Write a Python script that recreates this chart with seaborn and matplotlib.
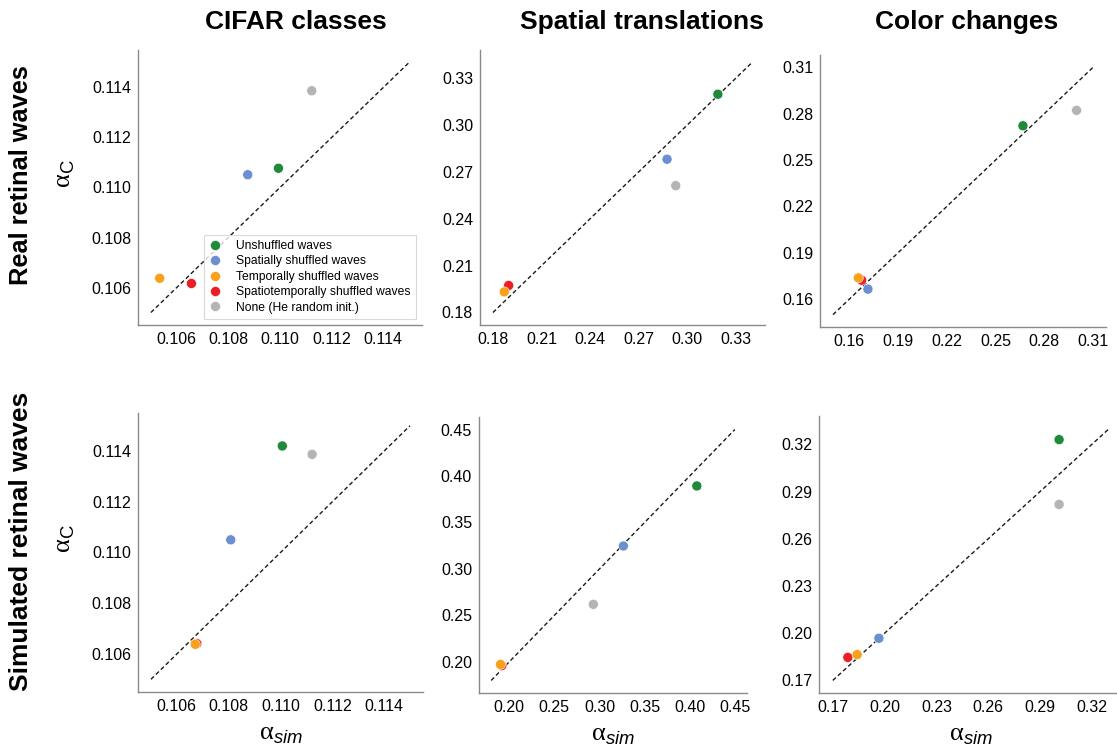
import matplotlib
matplotlib.use("Agg")
import matplotlib.pyplot as plt
from matplotlib.ticker import FormatStrFormatter
import numpy as np
import pandas as pd
import seaborn as sns

# ---- data -------------------------------------------------------------
conditions = [
    "Unshuffled waves",
    "Spatially shuffled waves",
    "Temporally shuffled waves",
    "Spatiotemporally shuffled waves",
    "None (He random init.)",
]
palette = {
    "Unshuffled waves": "#21893b",
    "Spatially shuffled waves": "#6b8fcf",
    "Temporally shuffled waves": "#f9a11b",
    "Spatiotemporally shuffled waves": "#ea1f26",
    "None (He random init.)": "#b4b4b6",
}
# drawing order (later entries are drawn on top)
draw_order = [0, 1, 3, 2, 4]

col_titles = ["CIFAR classes", "Spatial translations", "Color changes"]
row_titles = ["Real retinal waves", "Simulated retinal waves"]

# real retinal waves
cifar_real_sim = [0.10994, 0.10875, 0.10534, 0.10657, 0.11123]
cifar_real_c = [0.11077, 0.11051, 0.10637, 0.10616, 0.11387]
spatial_real_sim = [0.3189, 0.2875, 0.1870, 0.1897, 0.2929]
spatial_real_c = [0.3197, 0.2781, 0.1932, 0.1973, 0.2612]
color_real_sim = [0.2669, 0.1715, 0.1656, 0.1676, 0.2999]
color_real_c = [0.2722, 0.1665, 0.1738, 0.1723, 0.2822]

# simulated retinal waves
cifar_simu_sim = [0.11007, 0.10808, 0.10671, 0.10677, 0.11122]
cifar_simu_c = [0.11420, 0.11050, 0.10638, 0.10641, 0.11387]
spatial_simu_sim = [0.4079, 0.3265, 0.1903, 0.1918, 0.2932]
spatial_simu_c = [0.3893, 0.3247, 0.1972, 0.1961, 0.2619]
color_simu_sim = [0.3010, 0.1967, 0.1841, 0.1787, 0.3010]
color_simu_c = [0.3230, 0.1968, 0.1864, 0.1846, 0.2818]

# identity-line extents
diag_cifar = [0.105, 0.115]
diag_spatial_real = [0.18, 0.34]
diag_color_real = [0.15, 0.31]
diag_spatial_simu = [0.18, 0.45]
diag_color_simu = [0.17, 0.33]

# tick values
ticks_cifar = [0.106, 0.108, 0.110, 0.112, 0.114]
ticks_spatial_real = [0.18, 0.21, 0.24, 0.27, 0.30, 0.33]
ticks_color_real = [0.16, 0.19, 0.22, 0.25, 0.28, 0.31]
ticks_spatial_simu = [0.20, 0.25, 0.30, 0.35, 0.40, 0.45]
ticks_color_simu = [0.17, 0.20, 0.23, 0.26, 0.29, 0.32]

panels = [
    (cifar_real_sim, cifar_real_c, diag_cifar, ticks_cifar, "%.3f"),
    (spatial_real_sim, spatial_real_c, diag_spatial_real, ticks_spatial_real, "%.2f"),
    (color_real_sim, color_real_c, diag_color_real, ticks_color_real, "%.2f"),
    (cifar_simu_sim, cifar_simu_c, diag_cifar, ticks_cifar, "%.3f"),
    (spatial_simu_sim, spatial_simu_c, diag_spatial_simu, ticks_spatial_simu, "%.2f"),
    (color_simu_sim, color_simu_c, diag_color_simu, ticks_color_simu, "%.2f"),
]

# ---- style ------------------------------------------------------------
sns.set_theme(style="white")
plt.rcParams["font.family"] = ["Liberation Sans", "DejaVu Sans"]
plt.rcParams["text.color"] = "black"
plt.rcParams["axes.labelcolor"] = "black"
plt.rcParams["mathtext.fontset"] = "custom"
plt.rcParams["mathtext.rm"] = "Liberation Serif"
plt.rcParams["mathtext.it"] = "Liberation Sans:italic"
plt.rcParams["mathtext.sf"] = "Liberation Sans"

W, H = 1117, 747
fig = plt.figure(figsize=(W / 100, H / 100), dpi=100)

# axes boxes in pixels: left, top, width, height
boxes = [
    (138, 50, 284, 275),
    (480, 50, 285, 275),
    (820, 55, 286, 272),
    (138, 413, 285, 279),
    (479, 417, 268, 276),
    (819, 416, 304, 277),
]

spine_col = "#8a8a8a"
for i, (xs, ys, diag, ticks, fmt) in enumerate(panels):
    l, t, w, h = boxes[i]
    ax = fig.add_axes([l / W, 1 - (t + h) / H, w / W, h / H])
    ax.plot(diag, diag, color="#1a1a1a", lw=1.0, ls=(0, (3, 2)), zorder=1)
    df = pd.DataFrame({
        "sim": [xs[k] for k in draw_order],
        "c": [ys[k] for k in draw_order],
        "cond": [conditions[k] for k in draw_order],
    })
    sns.scatterplot(
        data=df, x="sim", y="c", hue="cond", hue_order=conditions,
        palette=palette, s=52, edgecolor="white", linewidth=0.4,
        ax=ax, legend=(i == 0), zorder=3,
    )
    ax.set_xticks(ticks)
    ax.set_yticks(ticks)
    ax.xaxis.set_major_formatter(FormatStrFormatter(fmt))
    ax.yaxis.set_major_formatter(FormatStrFormatter(fmt))
    ax.tick_params(axis="both", length=0, pad=5, labelsize=11.5, labelcolor="black")
    for side in ("top", "right"):
        ax.spines[side].set_visible(False)
    for side in ("left", "bottom"):
        ax.spines[side].set_color(spine_col)
        ax.spines[side].set_linewidth(1.0)
    if i % 3 == 0:
        ax.set_ylabel(r"$\mathrm{\alpha}_{\mathsf{C}}$", fontsize=19)
        ax.yaxis.set_label_coords(-0.215, 0.55)
    else:
        ax.set_ylabel("")
    if i >= 3:
        ax.set_xlabel(r"$\mathrm{\alpha}_{\mathit{sim}}$", fontsize=19, labelpad=6)
    else:
        ax.set_xlabel("")
    if i == 0:
        leg = ax.legend(
            loc="lower right", fontsize=8.7, frameon=True, fancybox=False,
            edgecolor="#d0d0d0", labelspacing=0.28, borderpad=0.45,
            handlelength=1.0, handletextpad=1.2, borderaxespad=0.5,
            markerscale=1.0,
        )
        leg.get_frame().set_linewidth(0.8)

# column titles
for x, txt in zip([296 / W, 642 / W, 967 / W], col_titles):
    fig.text(x, 1 - 22 / H, txt, ha="center", va="center",
             fontsize=19, fontweight="bold")

# row titles
for y, txt, fs in zip([1 - 175 / H, 1 - 541 / H], row_titles, [18.3, 19]):
    fig.text(21 / W, y, txt, ha="center", va="center", rotation=90,
             fontsize=fs, fontweight="bold")

fig.savefig("out.png", dpi=100)
